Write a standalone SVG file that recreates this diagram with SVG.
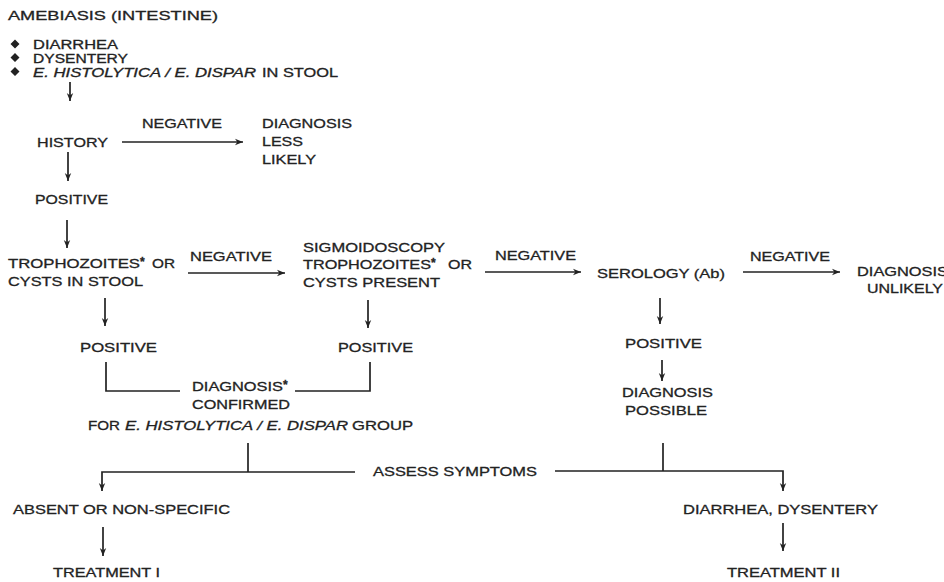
<svg xmlns="http://www.w3.org/2000/svg" width="944" height="582" viewBox="0 0 944 582">
<style>
text{font-family:"Liberation Sans",Arial,sans-serif;font-size:13.5px;fill:#222;stroke:#222;stroke-width:0.3}
.b{font-size:12.5px}
.i{font-style:italic}
.ln{stroke:#222;stroke-width:1.7;fill:none}
.ar{stroke:#222;stroke-width:1.7;fill:none;marker-end:url(#ah)}
.st{font-size:12px;font-weight:bold}
</style>
<defs>
<marker id="ah" viewBox="0 0 10 10" refX="10" refY="5" markerWidth="8" markerHeight="8" markerUnits="userSpaceOnUse" orient="auto">
<path d="M0,1 L10,5 L0,9 L3,5 z" fill="#222"/>
</marker>
</defs>
<rect width="944" height="582" fill="#fff"/>

<g id="title"><text x="8" y="20" textLength="210" lengthAdjust="spacingAndGlyphs">AMEBIASIS (INTESTINE)</text></g>

<g id="symptoms">
<path d="M15,39.5 L19.5,44 L15,48.5 L10.5,44 z M15,53 L19.5,57.5 L15,62 L10.5,57.5 z M15,67 L19.5,71.5 L15,76 L10.5,71.5 z" fill="#222"/>
<text class="b" x="33" y="48.5" textLength="85" lengthAdjust="spacingAndGlyphs">DIARRHEA</text>
<text class="b" x="33" y="62.5" textLength="95" lengthAdjust="spacingAndGlyphs">DYSENTERY</text>
<text x="33" y="76.5" class="b i" textLength="223" lengthAdjust="spacingAndGlyphs">E. HISTOLYTICA / E. DISPAR</text>
<text class="b" x="262" y="76.5" textLength="76" lengthAdjust="spacingAndGlyphs">IN STOOL</text>
</g>

<g id="history"><text x="37" y="147" textLength="71" lengthAdjust="spacingAndGlyphs">HISTORY</text></g>
<g id="less-likely">
<text x="262" y="128" textLength="90" lengthAdjust="spacingAndGlyphs">DIAGNOSIS</text>
<text x="262" y="146" textLength="41" lengthAdjust="spacingAndGlyphs">LESS</text>
<text x="262" y="164" textLength="54" lengthAdjust="spacingAndGlyphs">LIKELY</text>
</g>
<g id="positive1"><text x="35" y="204" textLength="73" lengthAdjust="spacingAndGlyphs">POSITIVE</text></g>

<g id="stool">
<text x="8" y="268" textLength="132" lengthAdjust="spacingAndGlyphs">TROPHOZOITES</text>
<text x="140" y="266" class="st">*</text>
<text x="152" y="268" textLength="23" lengthAdjust="spacingAndGlyphs">OR</text>
<text x="8" y="286" textLength="135" lengthAdjust="spacingAndGlyphs">CYSTS IN STOOL</text>
</g>
<g id="sigmoidoscopy">
<text x="303" y="252" textLength="142" lengthAdjust="spacingAndGlyphs">SIGMOIDOSCOPY</text>
<text x="303" y="269" textLength="128" lengthAdjust="spacingAndGlyphs">TROPHOZOITES</text>
<text x="431" y="267" class="st">*</text>
<text x="448" y="269" textLength="24" lengthAdjust="spacingAndGlyphs">OR</text>
<text x="303" y="287" textLength="137" lengthAdjust="spacingAndGlyphs">CYSTS PRESENT</text>
</g>
<g id="serology"><text x="597" y="278" textLength="128" lengthAdjust="spacingAndGlyphs">SEROLOGY (Ab)</text></g>
<g id="unlikely">
<text x="857" y="276" textLength="91" lengthAdjust="spacingAndGlyphs">DIAGNOSIS</text>
<text x="867" y="293" textLength="76" lengthAdjust="spacingAndGlyphs">UNLIKELY</text>
</g>

<g id="positive2"><text x="80" y="352" textLength="77" lengthAdjust="spacingAndGlyphs">POSITIVE</text></g>
<g id="positive3"><text x="338" y="352" textLength="75" lengthAdjust="spacingAndGlyphs">POSITIVE</text></g>
<g id="positive4"><text x="625" y="348" textLength="77" lengthAdjust="spacingAndGlyphs">POSITIVE</text></g>
<g id="possible">
<text x="622" y="397" textLength="91" lengthAdjust="spacingAndGlyphs">DIAGNOSIS</text>
<text x="625" y="415" textLength="82" lengthAdjust="spacingAndGlyphs">POSSIBLE</text>
</g>

<g id="confirmed">
<text x="192" y="391" textLength="91" lengthAdjust="spacingAndGlyphs">DIAGNOSIS</text>
<text x="283" y="389" class="st">*</text>
<text x="192" y="409" textLength="98" lengthAdjust="spacingAndGlyphs">CONFIRMED</text>
<text x="88" y="430" textLength="32" lengthAdjust="spacingAndGlyphs">FOR</text>
<text x="125" y="430" class="i" textLength="223" lengthAdjust="spacingAndGlyphs">E. HISTOLYTICA / E. DISPAR</text>
<text x="352" y="430" textLength="61" lengthAdjust="spacingAndGlyphs">GROUP</text>
</g>

<g id="assess"><text x="373" y="476" textLength="164" lengthAdjust="spacingAndGlyphs">ASSESS SYMPTOMS</text></g>
<g id="absent"><text x="13" y="514" textLength="217" lengthAdjust="spacingAndGlyphs">ABSENT OR NON-SPECIFIC</text></g>
<g id="treatment1"><text x="53" y="577" textLength="107" lengthAdjust="spacingAndGlyphs">TREATMENT I</text></g>
<g id="diarrhea-dysentery"><text x="683" y="514" textLength="195" lengthAdjust="spacingAndGlyphs">DIARRHEA, DYSENTERY</text></g>
<g id="treatment2"><text x="727" y="577" textLength="113" lengthAdjust="spacingAndGlyphs">TREATMENT II</text></g>

<g id="edge-labels">
<text x="142" y="128" textLength="80" lengthAdjust="spacingAndGlyphs">NEGATIVE</text>
<text x="190" y="261" textLength="82" lengthAdjust="spacingAndGlyphs">NEGATIVE</text>
<text x="495" y="260" textLength="81" lengthAdjust="spacingAndGlyphs">NEGATIVE</text>
<text x="750" y="261" textLength="80" lengthAdjust="spacingAndGlyphs">NEGATIVE</text>
</g>

<g id="connectors">
<path class="ar" d="M70,82 V101"/>
<path class="ar" d="M122,142 H243"/>
<path class="ar" d="M68,152 V181"/>
<path class="ar" d="M67,220 V248"/>
<path class="ar" d="M188,273 H285"/>
<path class="ar" d="M485,272 H581"/>
<path class="ar" d="M743,272 H840"/>
<path class="ar" d="M105,298 V326"/>
<path class="ar" d="M368,300 V328"/>
<path class="ar" d="M660,298 V324"/>
<path class="ar" d="M662,360 V381"/>
<path class="ln" d="M106,362 V391 H180"/>
<path class="ln" d="M295,391 H370 V362"/>
<path class="ln" d="M248,443 V472"/>
<path class="ar" d="M355,472 H102 V491"/>
<path class="ar" d="M555,471 H783 V491"/>
<path class="ln" d="M663,443 V471"/>
<path class="ar" d="M103,527 V556"/>
<path class="ar" d="M783,523 V551"/>
</g>
</svg>
